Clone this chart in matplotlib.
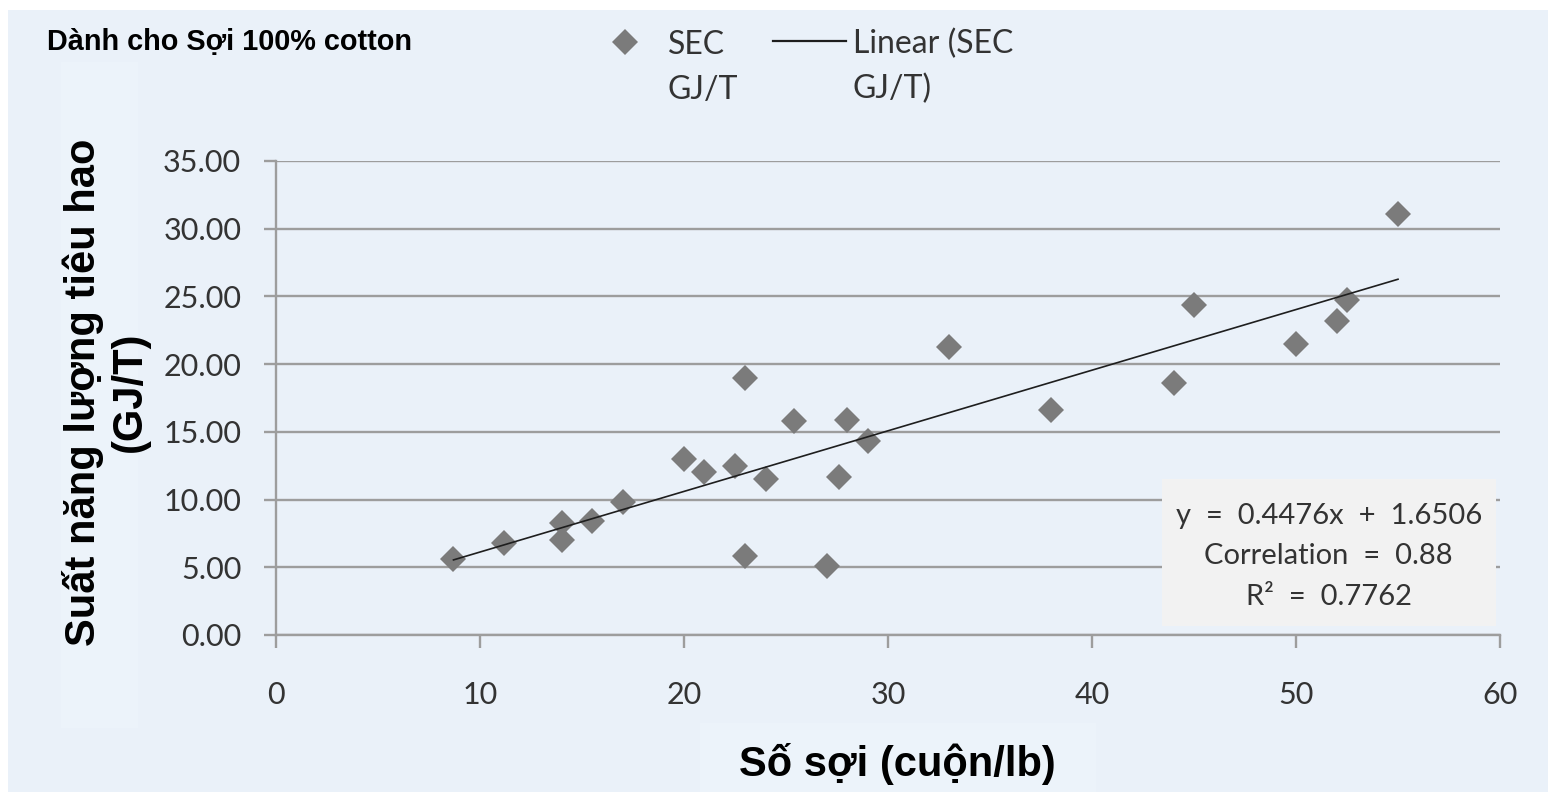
import matplotlib
matplotlib.use("Agg")
import matplotlib.pyplot as plt
from matplotlib.patches import Rectangle
from matplotlib.lines import Line2D
import numpy as np

# yarn count (hanks/lb) vs specific energy consumption (GJ/T)
count_x = [8.7, 11.2, 14.0, 14.0, 15.5, 17.0, 20.0, 21.0, 22.5, 23.0, 23.0, 24.0,
           25.4, 27.0, 27.6, 28.0, 29.0, 33.0, 38.0, 44.0, 45.0, 50.0, 52.0, 52.5, 55.0]
sec_y = [5.6, 6.8, 8.3, 7.0, 8.4, 9.8, 13.0, 12.0, 12.5, 19.0, 5.8, 11.5,
         15.8, 5.1, 11.7, 15.9, 14.3, 21.3, 16.6, 18.6, 24.4, 21.5, 23.2, 24.7, 31.1]

slope = 0.4476
intercept = 1.6506
correlation = 0.88
r_squared = 0.7762

x_ticks = [0, 10, 20, 30, 40, 50, 60]
y_ticks = [0, 5, 10, 15, 20, 25, 30, 35]

title_text = "Dành cho Sợi 100% cotton"
x_label = "Số sợi (cuộn/lb)"
y_label = "Suất năng lượng tiêu hao\n(GJ/T)"
series_label = "SEC\nGJ/T"
trend_label = "Linear (SEC\nGJ/T)"

W, H = 1548, 792
fig = plt.figure(figsize=(W / 100, H / 100), dpi=100)
fig.patch.set_facecolor("white")

# light blue panel behind everything
panel = "#eaf1f9"
fig.patches.append(Rectangle((8 / W, 0), 1 - 8 / W, 1 - 10 / H, transform=fig.transFigure,
                             facecolor=panel, edgecolor="none", zorder=-2))
# faint boxes behind the axis titles
fig.patches.append(Rectangle((61 / W, 1 - 728 / H), 77 / W, 666 / H, transform=fig.transFigure,
                             facecolor="#ecf3fa", edgecolor="none", zorder=-1))
fig.patches.append(Rectangle((700 / W, 0), 396 / W, 69 / H, transform=fig.transFigure,
                             facecolor="#ecf3fa", edgecolor="none", zorder=-1))

ax = fig.add_axes([276 / W, 1 - 635 / H, 1224 / W, 474 / H])
ax.set_facecolor("none")
ax.set_zorder(1)

grid_c = "#9d9d9d"
tick_font = ["Lato", "DejaVu Sans"]

x_arr = np.array(count_x)
fit_x = np.array([x_arr.min(), x_arr.max()])
fit_y = slope * fit_x + intercept

ax.plot(count_x, sec_y, linestyle="none", marker="D", markersize=13.5,
        color="#7b7b7b", markeredgewidth=0, zorder=3, clip_on=False)
ax.plot(fit_x, fit_y, color="#1e1e1e", linewidth=1.2, zorder=4)

ax.set_xlim(0, 60)
ax.set_ylim(0, 35)
ax.set_xticks(x_ticks)
ax.set_yticks(y_ticks)
ax.set_yticklabels([f"{v:.2f}" for v in y_ticks])
ax.yaxis.grid(True, color=grid_c, linewidth=1.7, zorder=1)
ax.set_axisbelow(True)

for side in ("top", "right"):
    ax.spines[side].set_visible(False)
for side in ("left", "bottom"):
    ax.spines[side].set_color(grid_c)
    ax.spines[side].set_linewidth(1.7)

ax.tick_params(axis="both", colors=grid_c, width=1.7, length=9, direction="out")
ax.tick_params(axis="y", pad=16)
ax.tick_params(axis="x", pad=24)
for lbl in ax.get_xticklabels() + ax.get_yticklabels():
    lbl.set_family(tick_font)
    lbl.set_fontsize(22)
    lbl.set_color("#333333")

# equation box
ax.add_patch(Rectangle((0.724, 0.019), 0.273, 0.310, transform=ax.transAxes,
                       facecolor="#f2f2f2", edgecolor="none", zorder=2))
eq_lines = [f"y  =  {slope:.4f}x  +  {intercept:.4f}",
            f"Correlation  =  {correlation:.2f}",
            f"R²  =  {r_squared:.4f}"]
ax.text(0.860, 0.166, "\n".join(eq_lines),
        transform=ax.transAxes, ha="center", va="center", linespacing=1.7,
        fontsize=21, family=tick_font, color="#333333", zorder=5)

bold_font = ["Liberation Sans", "DejaVu Sans"]
fig.text(47 / W, 1 - 42 / H, title_text, ha="left", va="center", fontsize=20.8,
         fontweight="bold", family=bold_font, color="black")
fig.text(897 / W, 1 - 764 / H, x_label, ha="center", va="center", fontsize=30,
         fontweight="bold", family=bold_font, color="black")
fig.text(106 / W, 1 - 392 / H, y_label, ha="center", va="center", rotation=90,
         fontsize=30, fontweight="bold", family=bold_font, color="black",
         linespacing=1.2, multialignment="center")

handles = [Line2D([], [], linestyle="none", marker="D", markersize=13, color="#7b7b7b",
                  markeredgewidth=0),
           Line2D([], [], color="#1e1e1e", linewidth=1.6)]
leg = fig.legend(handles, [series_label, trend_label], ncol=2, frameon=False,
                 loc="upper left", bbox_to_anchor=(588 / W, 1 - 29 / H),
                 prop={"family": tick_font, "size": 23}, handlelength=2.3,
                 handleheight=0.9, handletextpad=0.2, columnspacing=1.08,
                 borderpad=0, borderaxespad=0)
for t in leg.get_texts():
    t.set_color("#333333")
    t.set_linespacing(1.6)
# put the handle next to the first line of each label
for col in leg._legend_handle_box.get_children():
    for row in col.get_children():
        row.align = "top"

fig.savefig("out.png", dpi=100, facecolor=fig.get_facecolor())
